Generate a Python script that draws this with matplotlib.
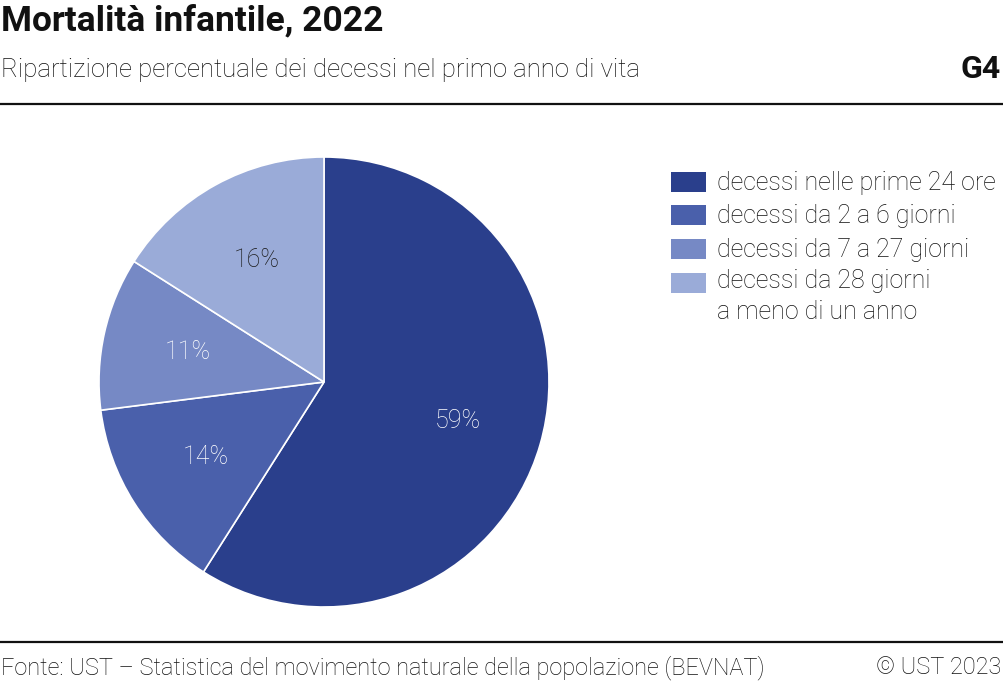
import matplotlib
matplotlib.use('Agg')
import matplotlib.pyplot as plt
from matplotlib.patches import Rectangle

plt.rcParams['font.family'] = ['Roboto', 'DejaVu Sans']

# dati
categorie = ['decessi nelle prime 24 ore', 'decessi da 2 a 6 giorni',
             'decessi da 7 a 27 giorni', 'decessi da 28 giorni\na meno di un anno']
quote = [59, 14, 11, 16]
colori = ['#2a3f8c', '#4a60ab', '#7689c5', '#9aabd8']
colori_testo = ['#ffffff', '#ffffff', '#ffffff', '#1a1a1a']

W, H = 1004, 685
fig = plt.figure(figsize=(W / 100, H / 100), dpi=100)

# torta: centro (324, 382), raggio 225 px
cx, cy, r = 324, 382, 225
ax = fig.add_axes([(cx - r) / W, (H - cy - r) / H, 2 * r / W, 2 * r / H])
wedges, _, autotexts = ax.pie(quote, colors=colori, startangle=90, counterclock=False,
                              autopct=lambda p: f'{round(p):d}%', pctdistance=0.62,
                              wedgeprops=dict(edgecolor='white', linewidth=1.2))
for t, c in zip(autotexts, colori_testo):
    t.set_color(c)
    t.set_fontsize(18)
    t.set_fontweight('light')
ax.set_xlim(-1, 1)
ax.set_ylim(-1, 1)
ax.set_aspect('equal')
ax.axis('off')

# titoli
fig.text(1 / W, 1 - 21 / H, 'Mortalità infantile, 2022', fontsize=25.5, fontweight='bold',
         va='center', ha='left', color='#111111')
fig.text(1 / W, 1 - 70 / H, 'Ripartizione percentuale dei decessi nel primo anno di vita',
         fontsize=18.5, fontweight='light', va='center', ha='left', color='#111111')
fig.text(1 - 3 / W, 1 - 69 / H, 'G4', fontsize=23, fontweight='bold',
         va='center', ha='right', color='#111111')
fig.add_artist(plt.Line2D([0, 1], [1 - 104 / H, 1 - 104 / H], color='#111111', lw=1.6))
fig.add_artist(plt.Line2D([0, 1], [1 - 642 / H, 1 - 642 / H], color='#111111', lw=1.6))

# legenda
rows_y = [182, 215, 249, 283]
for y, lab, col in zip(rows_y, categorie, colori):
    fig.add_artist(Rectangle((671 / W, 1 - (y + 10) / H), 35 / W, 20 / H,
                             facecolor=col, edgecolor='none'))
    if '\n' in lab:
        fig.text(717 / W, 1 - (y - 14) / H, lab, fontsize=18, fontweight='light',
                 va='top', ha='left', color='#111111', linespacing=1.38)
    else:
        fig.text(717 / W, 1 - (y + 1) / H, lab, fontsize=18, fontweight='light',
                 va='center', ha='left', color='#111111')

# fonte
fig.text(1 / W, 1 - 668 / H,
         'Fonte: UST – Statistica del movimento naturale della popolazione (BEVNAT)',
         fontsize=16.9, fontweight='light', va='center', ha='left', color='#111111')
fig.text(1 - 3 / W, 1 - 668 / H, '© UST 2023', fontsize=16.9, fontweight='light',
         va='center', ha='right', color='#111111')

fig.savefig('out.png', dpi=100)
